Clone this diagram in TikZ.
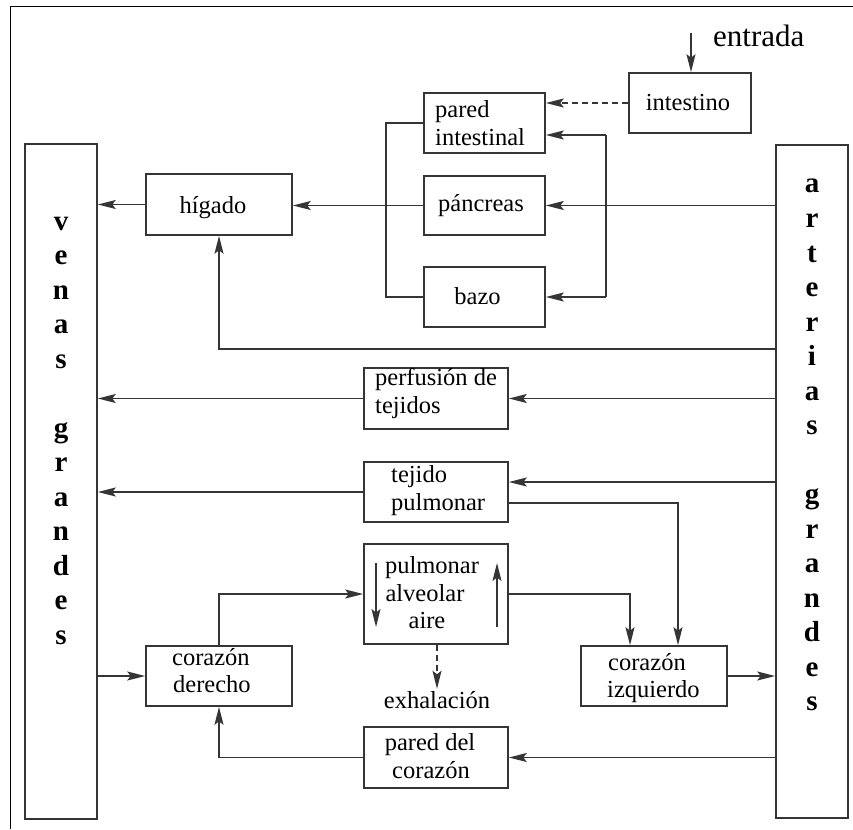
\documentclass[tikz,border=0pt]{standalone}
\usepackage{fontspec}
\setmainfont{Liberation Serif}
\usetikzlibrary{arrows.meta,calc}
\definecolor{ink}{HTML}{353535}
\begin{document}
\begin{tikzpicture}[x=1pt,y=-1pt,
  box/.style={draw=ink, line width=1.6pt, inner sep=0pt},
  lbl/.style={font=\fontsize{24.5}{28}\selectfont, inner sep=0pt, text=black},
  bigl/.style={font=\fontsize{31}{34}\selectfont, inner sep=0pt, text=black},
  vlet/.style={font=\fontsize{29}{30}\selectfont\bfseries, inner sep=0pt, anchor=base, text=black},
  wire/.style={draw=ink, line width=1.6pt},
  arr/.style={wire, -{Stealth[length=18pt,width=9pt,inset=3.5pt]}},
  dashline/.style={dash pattern=on 6pt off 4pt}]
\useasboundingbox (0,0) rectangle (853,829);

% outer frame (top and left edges)
\draw[black, line width=1pt] (10,829) -- (10,7) -- (853,7);

% the two large vessels
\node[box, minimum width=72, minimum height=675] (venas) at (61,481.5) {};
\node[box, minimum width=72, minimum height=673] (arterias) at (812,481.5) {};
\foreach \l/\k in {v/0,e/1,n/2,a/3,s/4,g/6,r/7,a/8,n/9,d/10,e/11,s/12}
  \node[vlet] (ven-\k) at (61,{230+34.5*\k}) {\l};
\foreach \l/\k in {a/0,r/1,t/2,e/3,r/4,i/5,a/6,s/7,g/9,r/10,a/11,n/12,d/13,e/14,s/15}
  \node[vlet] (art-\k) at (812,{193+34.5*\k}) {\l};

% organ boxes
\node[box, minimum width=146, minimum height=61] (higado) at (219,204.5) {};
\node[box, minimum width=122, minimum height=60] (intestino) at (690,103) {};
\node[box, minimum width=121, minimum height=60] (pared) at (484.5,123) {};
\node[box, minimum width=121, minimum height=59] (pancreas) at (484.5,205.5) {};
\node[box, minimum width=121, minimum height=60] (bazo) at (484.5,297) {};
\node[box, minimum width=144, minimum height=61] (perf) at (436,398.5) {};
\node[box, minimum width=144, minimum height=60] (tejido) at (436,492) {};
\node[box, minimum width=144, minimum height=100] (pulm) at (436,594) {};
\node[box, minimum width=146, minimum height=60] (cizq) at (654,676) {};
\node[box, minimum width=146, minimum height=60] (cder) at (219,676) {};
\node[box, minimum width=144, minimum height=61] (pcor) at (436,757.5) {};

% labels
\node[bigl, anchor=base west] (t-entrada) at (713,47) {entrada};
\node[lbl, anchor=base] (t-higado) at (213,213) {hígado};
\node[lbl, anchor=base] (t-intestino) at (688,111) {intestino};
\node[lbl, anchor=base west] (t-pared1) at (435,118) {pared};
\node[lbl, anchor=base west] (t-pared2) at (435,146) {intestinal};
\node[lbl, anchor=base] (t-pancreas) at (481,211) {páncreas};
\node[lbl, anchor=base] (t-bazo) at (477.5,304) {bazo};
\node[lbl, anchor=base west] (t-perf1) at (375,385) {perfusión de};
\node[lbl, anchor=base west] (t-perf2) at (375,413) {tejidos};
\node[lbl, anchor=base west] (t-tej1) at (391,482) {tejido};
\node[lbl, anchor=base west] (t-tej2) at (391,510) {pulmonar};
\node[lbl, anchor=base] (t-pulm1) at (432,573) {pulmonar};
\node[lbl, anchor=base] (t-pulm2) at (425,601) {alveolar};
\node[lbl, anchor=base] (t-pulm3) at (427,628) {aire};
\node[lbl, anchor=base] (exhal) at (437,708) {exhalación};
\node[lbl, anchor=base west] (t-cizq1) at (608,670) {corazón};
\node[lbl, anchor=base west] (t-cizq2) at (607,697) {izquierdo};
\node[lbl, anchor=base west] (t-cder1) at (172,665) {corazón};
\node[lbl, anchor=base west] (t-cder2) at (173,692) {derecho};
\node[lbl, anchor=base] (t-pcor1) at (430,750) {pared del};
\node[lbl, anchor=base] (t-pcor2) at (431,778) {corazón};

% helper points
\coordinate (entr) at (691,33);
\coordinate (rbtop) at (606,135);
\coordinate (rbbot) at (606,297);
\coordinate (hline) at (219,349);
\coordinate (tjin) at ([yshift=10pt]tejido.east);
\coordinate (tjout) at ([yshift=-11pt]tejido.east);
\coordinate (dn1) at (376,563);
\coordinate (dn2) at (376,627);
\coordinate (up1) at (497,627);
\coordinate (up2) at (497,563);

% intestinal circulation
\draw[arr] (entr) -- (entr |- intestino.north);
\draw[arr, dashline] (intestino.west) -- (intestino.west -| pared.east);
\draw[wire] (pared.west) -- ++(-37,0) |- (bazo.west);
\draw[arr] (pancreas.west) -- (pancreas.west -| higado.east);
\draw[wire] (rbbot) -- (rbtop);
\draw[arr] (rbtop) -- (rbtop -| pared.east);
\draw[arr] (rbbot) -- (rbbot -| bazo.east);
\draw[arr] (pancreas.east -| arterias.west) -- (pancreas.east);
\draw[arr] (higado.west) -- (higado.west -| venas.east);
\draw[arr] (hline -| arterias.west) -- (hline) -- (higado.south);

% tissues
\draw[arr] (perf.east -| arterias.west) -- (perf.east);
\draw[arr] (perf.west) -- (perf.west -| venas.east);
\draw[arr] (tjin -| arterias.west) -- (tjin);
\draw[arr] (tejido.west) -- (tejido.west -| venas.east);
\draw[arr] (tjout) -| ([xshift=24pt]cizq.north);

% heart and lungs
\draw[arr] (pulm.east) -| ([xshift=-24pt]cizq.north);
\draw[arr] (cizq.east) -- (cizq.east -| arterias.west);
\draw[arr] (cder.west -| venas.east) -- (cder.west);
\draw[arr] (cder.north) |- (pulm.west);
\draw[arr] (pcor.east -| arterias.west) -- (pcor.east);
\draw[arr] (pcor.west) -| (cder.south);
\draw[arr] (dn1) -- (dn2);
\draw[arr] (up1) -- (up2);
\draw[arr, dashline] ([xshift=1pt]pulm.south) -- ([yshift=2pt]exhal.north);
\end{tikzpicture}
\end{document}
